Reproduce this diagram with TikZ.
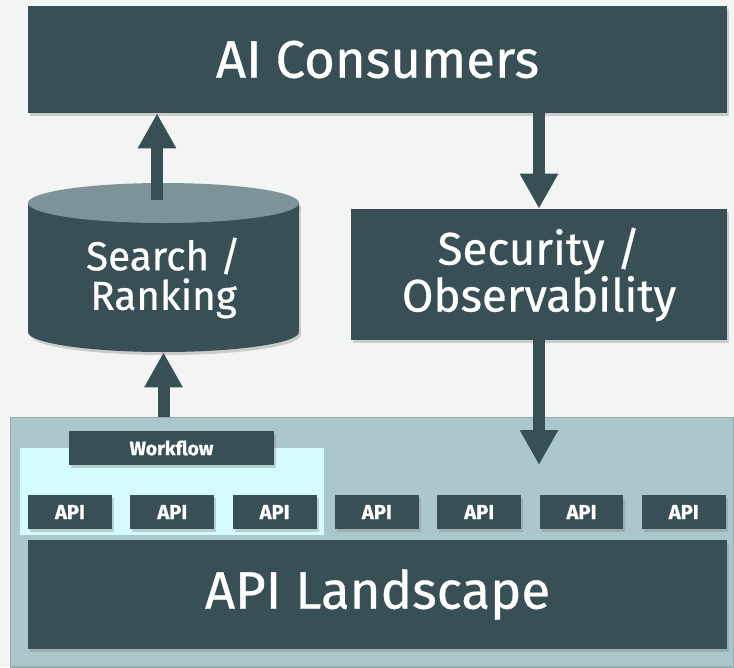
\documentclass[tikz,border=0pt]{standalone}
\usepackage{fontspec}
\setmainfont{Fira Sans}[FakeBold=0.6]
\usetikzlibrary{arrows.meta,shadows}
\definecolor{slate}{HTML}{385055}
\definecolor{slatetop}{HTML}{7E9397}
\definecolor{paper}{HTML}{F3F4F4}
\definecolor{pool}{HTML}{AAC8CB}
\definecolor{glow}{HTML}{D5FBFC}
\definecolor{rim}{HTML}{97AAAD}
\begin{document}
\begin{tikzpicture}[x=0.02cm, y=-0.02cm, line join=round, >={Triangle[width=0.72cm,length=0.7cm]}]
	\tikzset{shade/.style={drop shadow={opacity=0.35, shadow xshift=0.04cm, shadow yshift=-0.06cm}},
		box/.style={fill=slate, text=white, inner sep=0pt, align=center, shade},
		chip/.style={box, minimum width=1.68cm, minimum height=0.68cm, font=\fontsize{11.5}{13}\selectfont\bfseries},
		fat/.style={->, draw=slate, line width=0.24cm}}
	\useasboundingbox (0,0) rectangle (734,667);
	\fill[paper] (0,0) rectangle (734,667);
	\node[fill=pool, draw=rim, line width=0.6pt, minimum width=14.48cm, minimum height=5cm, inner sep=0pt] (zone) at (372,542) {};
	\fill[glow] (20,448) rectangle (324,535);
	\node[box, minimum width=13.98cm, minimum height=2.14cm, font=\fontsize{30}{34}\selectfont] (ai) at (377.5,59.5) {AI Consumers};
	\node[box, minimum width=7.52cm, minimum height=2.62cm, font=\fontsize{26}{26.7}\selectfont] (sec) at (539,274.5) {Security /\\Observability};
	\node[box, minimum width=13.98cm, minimum height=2.18cm, font=\fontsize{30}{34}\selectfont] (land) at (377.5,594.5) {API Landscape};
	\node[chip, minimum width=4.1cm, font=\fontsize{11}{13}\selectfont\bfseries] (wf) at (171.5,448) {Workflow};
	\foreach \i in {0,...,6}
		\node[chip] (api\i) at ({70+102.3*\i},512) {API};
	\fill[slate, shade] (28,203) -- (28,332) arc[start angle=180, end angle=360, x radius=2.71cm, y radius=0.4cm] -- (299,203) -- cycle;
	\fill[slatetop] (163.5,203) ellipse[x radius=2.71cm, y radius=0.4cm];
	\node[minimum width=5.42cm, minimum height=3.38cm, inner sep=0pt] (srch) at (163.5,267.5) {};
	\node[text=white, align=center, font=\fontsize{23}{22.5}\selectfont] (srchtxt) at (163.5,278) {Search /\\Ranking};
	\coordinate (srchtop) at (157,200);
	\coordinate (landin) at (539,465);
	\draw[fat] (srchtop) -- (srchtop |- ai.south);
	\draw[fat] (sec.north |- ai.south) -- (sec.north);
	\draw[fat] (sec.south) -- (landin);
	\draw[fat] (zone.north -| srch.south) -- (srch.south);
\end{tikzpicture}
\end{document}
